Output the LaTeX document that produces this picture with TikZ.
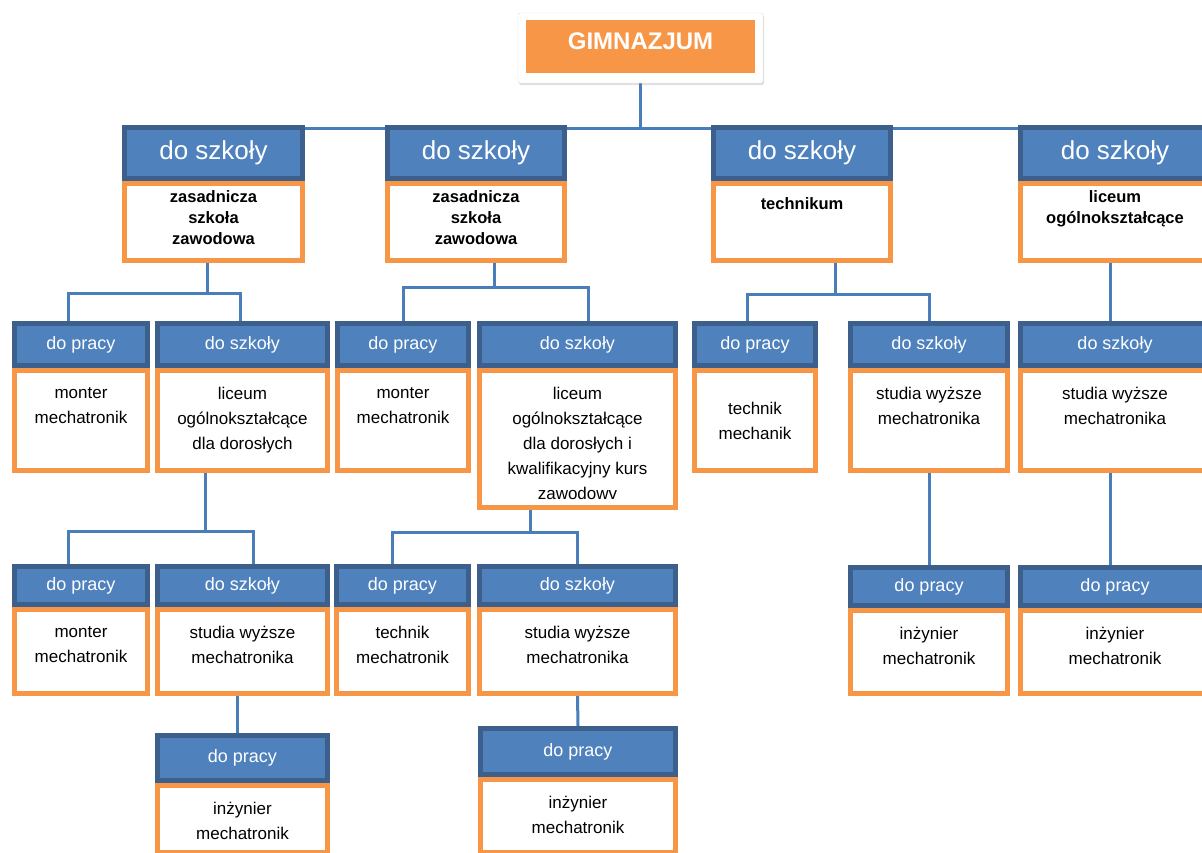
\documentclass[tikz,border=0pt]{standalone}
\usepackage{fontspec}
\setmainfont{Liberation Sans}
\usetikzlibrary{positioning,shadows,backgrounds}

\definecolor{niebieski}{HTML}{4F81BD}
\definecolor{ciemny}{HTML}{3C5F8C}
\definecolor{pomarancz}{HTML}{F79646}
\definecolor{linia}{HTML}{4A7EBB}

\tikzset{
  naglowek/.style={anchor=north west, draw=ciemny, fill=niebieski, line width=5pt, text=white, inner sep=0pt},
  naglowek1/.style={naglowek, font=\fontsize{26}{30}\selectfont},
  naglowek2/.style={naglowek, font=\fontsize{18}{22}\selectfont},
  naglowek3/.style={naglowek2},
  naglowek4/.style={naglowek1},
  tresc/.style={anchor=north west, draw=pomarancz, fill=white, line width=5pt, inner sep=0pt},
  opis/.style={anchor=north, align=center, inner sep=0pt, text=black},
  opis1/.style={opis, yshift=-9pt, font=\fontsize{16.5}{21.3}\selectfont\bfseries},
  opis2/.style={opis, yshift=-19pt, font=\fontsize{17}{25}\selectfont},
  opis3/.style={opis2, yshift=-15pt},
  opis4/.style={opis1, yshift=-7pt},
  polaczenie/.style={draw=linia, line width=3pt},
}

% #1 nazwa, #2 poziom, #3 lewa, #4 prawa, #5 gora, #6 wys. naglowka, #7 wys. tresci
\newcommand{\kafel}[9]{%
  \node[naglowek#2, minimum width={(#4-#3-5)*1pt}, minimum height={(#6-5)*1pt}] (#1) at (#3,#5) {#8};
  \node[tresc, minimum width={(#4-#3-5)*1pt}, minimum height={(#7-5)*1pt}] (#1b) at (#3,{#5+#6}) {};
  \node[opis#2] (#1t) at (#1b.north) {#9};
}

\begin{document}
\begin{tikzpicture}[x=1pt,y=-1pt]
\useasboundingbox (0,0) rectangle (1202,852);

% gimnazjum
\node[draw=black!12, fill=white, rounded corners=2pt, minimum width=245pt, minimum height=70pt,
  drop shadow={shadow xshift=1pt, shadow yshift=-2pt, opacity=0.25}] (ramka) at (640.5,48) {};
\node[fill=pomarancz, text=white, minimum width=229pt, minimum height=53pt, inner sep=0pt,
  text depth=10pt, font=\fontsize{24}{28}\selectfont\bfseries] (g) at (640.5,46.5) {GIMNAZJUM};

% poziom 1
\kafel{s1}{1}{122}{305}{125}{56}{82}{do szkoły}{zasadnicza\\szkoła\\zawodowa}
\kafel{s2}{1}{385}{567}{125}{56}{82}{do szkoły}{zasadnicza\\szkoła\\zawodowa}
\kafel{s3}{4}{711}{893}{125}{56}{82}{do szkoły}{technikum}
\kafel{s4}{1}{1018}{1212}{125}{56}{82}{do szkoły}{liceum\\ogólnokształcące}

% poziom 2
\kafel{p11}{2}{12}{150}{321}{47}{105}{do pracy}{monter\\mechatronik}
\kafel{s12}{2}{155}{330}{321}{47}{105}{do szkoły}{liceum\\ogólnokształcące\\dla dorosłych}
\kafel{p21}{2}{335}{471}{321}{47}{105}{do pracy}{monter\\mechatronik}
\kafel{s22}{2}{477}{678}{321}{47}{142}{do szkoły}{liceum\\ogólnokształcące\\dla dorosłych i\\kwalifikacyjny kurs\\zawodowv}
\kafel{p31}{3}{692}{818}{321}{47}{105}{do pracy}{technik\\mechanik}
\kafel{s32}{2}{848}{1010}{321}{47}{105}{do szkoły}{studia wyższe\\mechatronika}
\kafel{s41}{2}{1018}{1212}{321}{47}{105}{do szkoły}{studia wyższe\\mechatronika}

% poziom 3
\kafel{p121}{2}{12}{150}{564}{43}{89}{do pracy}{monter\\mechatronik}
\kafel{s122}{2}{155}{330}{564}{43}{89}{do szkoły}{studia wyższe\\mechatronika}
\kafel{p221}{2}{334}{471}{564}{43}{89}{do pracy}{technik\\mechatronik}
\kafel{s222}{2}{477}{678}{564}{43}{89}{do szkoły}{studia wyższe\\mechatronika}
\kafel{p321}{2}{848}{1010}{565}{43}{88}{do pracy}{inżynier\\mechatronik}
\kafel{p411}{2}{1018}{1212}{565}{43}{88}{do pracy}{inżynier\\mechatronik}

% poziom 4
\kafel{p1221}{2}{155}{330}{733}{50}{72}{do pracy}{inżynier\\mechatronik}
\kafel{p2221}{2}{478}{678}{726}{51}{78}{do pracy}{inżynier\\mechatronik}

% polaczenia
\coordinate (szyna) at ([yshift=-3pt]s1.north);
\begin{scope}[on background layer]
\draw[polaczenie] (g.south) -- (g.south |- szyna);
\draw[polaczenie] (szyna) -- (szyna -| s4.north);
\draw[polaczenie] ([xshift=-6.5pt]s1b.south) -- ++(0,30) -| ([xshift=-13pt]p11.north);
\draw[polaczenie] ([xshift=-6.5pt]s1b.south) -- ++(0,30) -| ([xshift=-2.5pt]s12.north);
\draw[polaczenie] ([xshift=18pt]s2b.south) -- ++(0,24) -| (p21.north);
\draw[polaczenie] ([xshift=18pt]s2b.south) -- ++(0,24) -| ([xshift=10.5pt]s22.north);
\draw[polaczenie] ([xshift=33pt]s3b.south) -- ++(0,31) -| ([xshift=-8pt]p31.north);
\draw[polaczenie] ([xshift=33pt]s3b.south) -- ++(0,31) -| (s32.north);
\draw[polaczenie] ([xshift=-5pt]s4b.south) -- ([xshift=-5pt]s41.north);
\draw[polaczenie] ([xshift=-37.5pt]s12b.south) -- ++(0,58) -| ([xshift=-13pt]p121.north);
\draw[polaczenie] ([xshift=-37.5pt]s12b.south) -- ++(0,58) -| ([xshift=10.5pt]s122.north);
\draw[polaczenie] ([xshift=-47.5pt]s22b.south) -- ++(0,22) -| ([xshift=-10.5pt]p221.north);
\draw[polaczenie] ([xshift=-47.5pt]s22b.south) -- ++(0,22) -| (s222.north);
\draw[polaczenie] (s32b.south) -- (p321.north);
\draw[polaczenie] ([xshift=-5pt]s41b.south) -- ([xshift=-5pt]p411.north);
\draw[polaczenie] ([xshift=-5.5pt]s122b.south) -- ([xshift=-5.5pt]p1221.north);
\draw[polaczenie] (s222b.south) -- (p2221.north);
\end{scope}
\end{tikzpicture}
\end{document}
